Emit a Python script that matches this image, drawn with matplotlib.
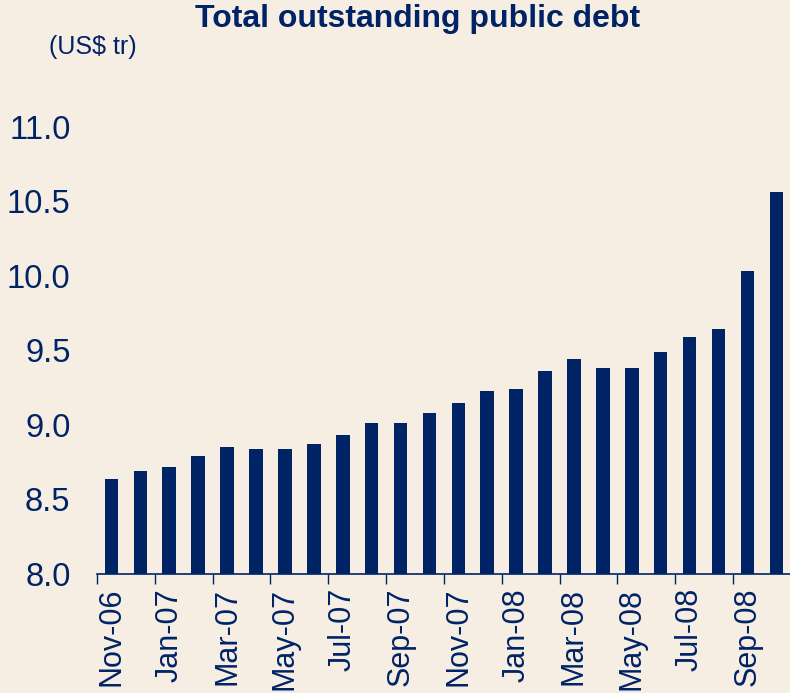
import matplotlib.pyplot as plt
import numpy as np

months = ["Nov-06", "Dec-06", "Jan-07", "Feb-07", "Mar-07", "Apr-07", "May-07", "Jun-07",
          "Jul-07", "Aug-07", "Sep-07", "Oct-07", "Nov-07", "Dec-07", "Jan-08", "Feb-08",
          "Mar-08", "Apr-08", "May-08", "Jun-08", "Jul-08", "Aug-08", "Sep-08", "Oct-08"]
debt = [8.64, 8.69, 8.72, 8.79, 8.85, 8.84, 8.84, 8.87,
        8.93, 9.01, 9.01, 9.08, 9.15, 9.23, 9.24, 9.36,
        9.44, 9.38, 9.38, 9.49, 9.59, 9.64, 10.03, 10.56]
yticks = [8.0, 8.5, 9.0, 9.5, 10.0, 10.5, 11.0]

navy = "#002366"
bg = "#F6EEE3"
plt.rcParams["font.family"] = ["Liberation Sans", "DejaVu Sans"]

fig = plt.figure(figsize=(7.9, 6.93), dpi=100, facecolor=bg)
ax = fig.add_axes([0.1228, 0.1717, 0.88, 0.71])
ax.set_facecolor(bg)

x = np.arange(len(months))
ax.bar(x, debt, width=0.47, color=navy, bottom=0)
ax.set_ylim(8.0, 11.3)
ax.set_xlim(-0.5, 23.55)

for s in ["top", "right", "left"]:
    ax.spines[s].set_visible(False)
ax.spines["bottom"].set_color(navy)
ax.spines["bottom"].set_linewidth(1.2)

ax.set_yticks(yticks)
ax.set_yticklabels([f"{v:.1f}" for v in yticks], fontsize=23.5, color=navy)
ax.tick_params(axis="y", length=0, pad=19)

# ticks sit between bars every two months, labels centred under the bars
ax.set_xticks(np.arange(-0.5, 23, 2))
ax.set_xticklabels([])
ax.tick_params(axis="x", which="major", length=7.5, width=1, color=navy, direction="out")
ax.set_xticks(x[::2], minor=True)
ax.set_xticklabels(months[::2], minor=True, rotation=90, fontsize=22, color=navy)
ax.tick_params(axis="x", which="minor", length=0, pad=10)

fig.text(0.529, 0.973, "Total outstanding public debt", ha="center", va="center",
         fontsize=23, fontweight="bold", color=navy)
fig.text(0.117, 0.932, "(US$ tr)", ha="center", va="center", fontsize=18, color=navy)

fig.savefig("out.png", dpi=100, facecolor=bg)
